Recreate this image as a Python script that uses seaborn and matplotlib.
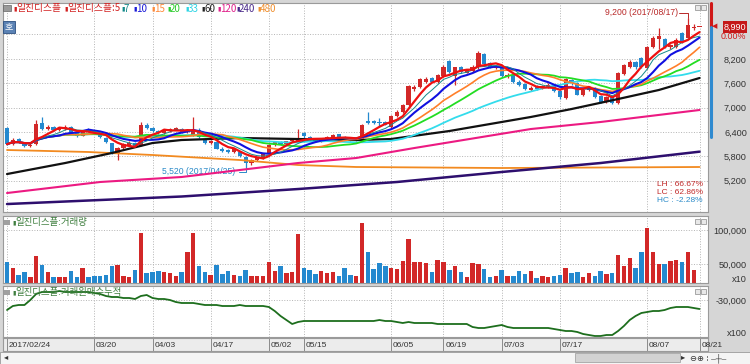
import numpy as np
import pandas as pd
import matplotlib
matplotlib.use('Agg')
import matplotlib.pyplot as plt
import matplotlib.patches as mpatches
import matplotlib.transforms as mtransforms
from matplotlib.lines import Line2D
import seaborn as sns

#========================= Data ===============================================
opens = [6490, 6100, 6230, 6140, 6050, 6100, 6620, 6470, 6520, 6440,
         6480, 6520, 6380, 6300, 6460, 6420, 6380, 6260, 6120, 5850,
         6000, 6090, 6140, 6080, 6560, 6500, 6420, 6370, 6430, 6460,
         6480, 6390, 6330, 6460, 6220, 6120, 6150, 5990, 5950, 5910,
         5920, 5790, 5640, 5700, 5760, 5880, 6080, 6160, 6100, 6170,
         6170, 6380, 6280, 6230, 6180, 6220, 6260, 6340, 6270, 6230,
         6190, 6210, 6680, 6680, 6650, 6640, 6530, 6800, 6880, 7060,
         7460, 7510, 7640, 7720, 7640, 7780, 8150, 7780, 8000, 7860,
         7900, 7990, 8330, 8090, 7980, 7980, 7770, 7790, 7640, 7580,
         7440, 7520, 7470, 7500, 7560, 7420, 7240, 7680, 7610, 7310,
         7440, 7480, 7280, 7130, 7270, 7120, 7820, 7990, 8120, 8220,
         7980, 8500, 8680, 8680, 8480, 8490, 8830, 8720, 8950, 8990]
highs = [6520, 6240, 6260, 6160, 6130, 6700, 6760, 6580, 6540, 6520,
         6560, 6540, 6400, 6440, 6490, 6450, 6400, 6280, 6140, 6040,
         6130, 6170, 6160, 6640, 6620, 6520, 6450, 6460, 6500, 6520,
         6500, 6480, 6780, 6500, 6240, 6200, 6170, 6020, 5970, 6000,
         5940, 5810, 5740, 5790, 5880, 6110, 6180, 6180, 6190, 6250,
         6480, 6400, 6300, 6250, 6250, 6300, 6360, 6350, 6290, 6250,
         6250, 6600, 6890, 6700, 6740, 6660, 6810, 6950, 7100, 7560,
         7560, 7740, 7760, 7760, 7830, 8040, 8180, 8010, 8020, 7950,
         8040, 8380, 8350, 8120, 8060, 8000, 7850, 7810, 7680, 7600,
         7520, 7560, 7560, 7600, 7580, 7440, 7720, 7700, 7630, 7470,
         7520, 7500, 7300, 7290, 7290, 7880, 8080, 8160, 8140, 8240,
         8520, 8760, 8960, 8700, 8570, 8700, 8850, 9200, 9060, 8990]
lows = [6080, 6080, 6130, 6040, 6020, 6090, 6460, 6440, 6420, 6420,
        6450, 6360, 6280, 6290, 6400, 6350, 6250, 6120, 5850, 5700,
        5980, 6070, 6030, 6060, 6470, 6400, 6350, 6350, 6410, 6440,
        6380, 6370, 6300, 6260, 6110, 6100, 5970, 5920, 5890, 5890,
        5780, 5520, 5600, 5680, 5740, 5870, 6060, 6080, 6090, 6150,
        6150, 6260, 6200, 6170, 6160, 6200, 6240, 6240, 6200, 6170,
        6170, 6200, 6590, 6600, 6520, 6560, 6510, 6780, 6860, 7040,
        7420, 7480, 7600, 7620, 7600, 7760, 7860, 7560, 7850, 7840,
        7880, 7960, 8050, 7980, 7940, 7760, 7740, 7600, 7540, 7430,
        7400, 7440, 7450, 7480, 7380, 7220, 7220, 7560, 7300, 7290,
        7420, 7240, 7120, 7110, 7080, 7100, 7800, 7970, 7960, 7970,
        7960, 8460, 8430, 8460, 8440, 8470, 8580, 8700, 8900, 8990]
closes = [6100, 6200, 6150, 6060, 6090, 6600, 6480, 6530, 6440, 6490,
          6520, 6380, 6300, 6420, 6420, 6370, 6270, 6150, 5880, 6010,
          6100, 6140, 6050, 6560, 6500, 6420, 6370, 6440, 6470, 6490,
          6400, 6430, 6420, 6280, 6130, 6170, 5990, 5940, 5910, 5980,
          5800, 5640, 5700, 5760, 5850, 6080, 6150, 6100, 6170, 6220,
          6240, 6290, 6220, 6190, 6230, 6280, 6330, 6260, 6220, 6190,
          6220, 6570, 6620, 6620, 6610, 6580, 6790, 6900, 7060, 7520,
          7500, 7700, 7700, 7640, 7800, 8000, 7880, 7990, 7870, 7920,
          8000, 8340, 8080, 8000, 8020, 7780, 7800, 7620, 7560, 7450,
          7480, 7460, 7520, 7560, 7400, 7250, 7700, 7600, 7320, 7440,
          7490, 7260, 7140, 7260, 7110, 7860, 8050, 8130, 8000, 7990,
          8480, 8700, 8750, 8480, 8540, 8660, 8610, 9030, 8990, 8990]
volume = [52400, 44200, 34500, 37900, 31600, 61200, 49000, 37900, 30600, 31600,
          31600, 40300, 31600, 44200, 31600, 33000, 33000, 34500, 47600, 48500,
          33000, 30600, 41300, 95100, 36400, 38800, 40300, 37900, 36400, 33000,
          37900, 67000, 96100, 47600, 37900, 34500, 48500, 35400, 39800, 34000,
          33000, 41300, 33000, 33000, 33000, 53400, 40300, 46600, 36900, 38800,
          93700, 44200, 41300, 35400, 39300, 36900, 37900, 33000, 43700, 34000,
          32100, 110600, 67000, 42700, 51000, 46600, 44200, 42700, 53900, 86400,
          53400, 52400, 51500, 38800, 56300, 52400, 41300, 47600, 37900, 30600,
          51500, 50000, 42700, 30600, 33000, 41300, 33000, 33000, 40300, 35400,
          39800, 29600, 33000, 31600, 33000, 34000, 43700, 36400, 38800, 30600,
          36900, 33000, 39300, 35000, 36400, 63600, 46600, 58700, 44200, 67000,
          103400, 67000, 50000, 50000, 54900, 56300, 52400, 67900, 41300, 0]
cum_buy = [-40000, -36000, -35000, -35000, -30000, -24000, -22000, -22000, -22000, -21000,
           -22000, -22000, -22000, -22000, -22000, -23000, -24000, -26000, -27000, -27000,
           -28000, -28000, -29000, -26000, -25000, -28000, -29000, -29000, -30000, -32000,
           -33000, -33000, -33000, -34000, -35000, -35000, -35000, -36000, -36000, -36000,
           -35000, -36000, -36000, -36000, -36000, -37000, -41000, -46000, -50000, -54000,
           -52000, -51000, -51000, -51000, -51000, -51000, -51000, -51000, -51000, -51000,
           -51000, -51000, -51000, -51000, -50000, -51000, -51000, -52000, -53000, -52000,
           -53000, -53000, -53000, -53000, -54000, -54000, -54000, -54000, -54000, -54000,
           -57000, -58000, -58000, -57000, -56000, -55000, -57000, -58000, -58000, -58000,
           -58000, -58000, -58000, -58000, -59000, -60000, -61000, -61000, -62000, -64000,
           -65000, -66000, -66000, -65000, -65000, -61000, -56000, -50000, -46000, -43000,
           -42000, -41000, -41000, -40000, -38000, -37000, -37000, -37000, -38000, -39000]

# long moving averages, read at a few days each
ma60_day = [0, 10, 18, 25, 30, 40, 50, 60, 66, 76, 90, 97, 105, 112, 119]
ma60_val = [5366, 5637, 5883, 6129, 6203, 6252, 6227, 6203, 6227, 6424, 6769, 6965, 7211, 7433, 7728]
ma120_day = [0, 16, 30, 50, 60, 70, 90, 102, 119]
ma120_val = [4899, 5170, 5293, 5637, 5760, 6006, 6473, 6646, 6941]
ma240_day = [0, 16, 30, 50, 67, 85, 102, 119]
ma240_val = [4628, 4727, 4813, 4997, 5170, 5416, 5637, 5916]
ma480_day = [0, 14, 25, 40, 50, 60, 85, 119]
ma480_val = [5957, 5908, 5834, 5711, 5588, 5539, 5514, 5539]

date_day = [0, 15, 25, 35, 45, 51, 66, 75, 85, 95, 110, 119]
date_lbl = ['2017/02/24', '03/20', '04/03', '04/17', '05/02', '05/15',
            '06/05', '06/19', '07/03', '07/17', '08/07', '08/21']
price_ticks = [5200, 5800, 6400, 7000, 7600, 8200, 8800]
price_lbls = ['5,200', '5,800', '6,400', '7,000', '7,600', '8,200', '']

legend_items = [('일진디스플', '#d22020'), ('일진디스플:5', '#d22020'), ('7', '#138a8a'),
                ('10', '#1a1ad8'), ('15', '#ff8a3a'), ('20', '#2ccc2c'), ('33', '#2cd4e4'),
                ('60', '#222222'), ('120', '#e0208a'), ('240', '#4a2a8a'), ('480', '#f09030')]
legend_x = [13, 64, 121, 133, 151, 167, 185, 201, 217, 236, 257]

#========================= Set up =============================================
sns.set_theme(style='white')
KR = ['Noto Sans CJK KR', 'DejaVu Sans']
plt.rcParams['font.family'] = ['Liberation Sans', 'DejaVu Sans']

RED, BLUE = '#d22828', '#2489cf'
W, H = 750, 364
fig = plt.figure(figsize=(7.5, 3.64), dpi=100)
fig.patch.set_facecolor('#d6d6d6')

def box(x0, y0, x1, y1):
    return [x0 / W, 1 - y1 / H, (x1 - x0) / W, (y1 - y0) / H]

def fx(x):
    return x / W

def fy(y):
    return 1 - y / H

ax = fig.add_axes(box(3, 3, 708, 212))
axv = fig.add_axes(box(3, 216, 708, 283), sharex=ax)
axc = fig.add_axes(box(3, 286, 708, 337), sharex=ax)
axd = fig.add_axes(box(3, 338, 708, 351), sharex=ax)

df = pd.DataFrame({'day': np.arange(len(closes)), 'open': opens, 'high': highs,
                   'low': lows, 'close': closes, 'vol': volume, 'cum': cum_buy})
df['up'] = df['close'] >= df['open']
df['col'] = np.where(df['up'], RED, BLUE)

for a in (ax, axv, axc, axd):
    a.set_facecolor('white')
    for s in a.spines.values():
        s.set_color('#9a9a9a')
        s.set_linewidth(0.8)
    a.set_xlim(-0.69, 120.45)
    a.set_xticks(date_day)
    a.tick_params(axis='x', length=0, labelbottom=False)
    a.grid(True, ls=':', color='#b4b4b4', lw=0.7)
    a.yaxis.tick_right()
    a.tick_params(axis='y', length=0, pad=28, labelsize=6.6, colors='#333333')
axd.set_facecolor('#ececec')
axd.grid(False)
axd.set_yticks([])

#========================= Price panel ========================================
ax.set_ylim(4432, 9573)
ax.set_yticks(price_ticks, price_lbls, ha='right')
ax.vlines(df['day'], df['low'], df['high'], colors=df['col'], lw=0.9, zorder=2)
body = np.maximum((df['close'] - df['open']).abs(), 14)
ax.bar(df['day'], body, bottom=np.minimum(df['open'], df['close']), width=0.72,
       color=df['col'], linewidth=0, zorder=3)

for w, c, lw in [(33, '#33dcec', 1.3), (20, '#22dd22', 1.3), (15, '#ff7f2a', 1.2),
                 (10, '#1010e0', 1.5), (7, '#138a8a', 0.7), (5, '#ee1010', 1.6)]:
    ma = df['close'].rolling(w, min_periods=1).mean()
    sns.lineplot(x=df['day'], y=ma, ax=ax, color=c, lw=lw, zorder=5, legend=False)
for d, v, c, lw in [(ma480_day, ma480_val, '#f28a20', 1.3), (ma240_day, ma240_val, '#2e0f6e', 1.8),
                    (ma120_day, ma120_val, '#ec1a82', 1.5), (ma60_day, ma60_val, '#111111', 1.6)]:
    sns.lineplot(x=d, y=v, ax=ax, color=c, lw=lw, zorder=4, legend=False)
ax.set_xlabel('')
ax.set_ylabel('')

ax.text(115.3, 9330, '9,200 (2017/08/17)', ha='right', va='center', fontsize=6.2,
        color='#b82828')
ax.plot([115.5, 117, 117], [9330, 9330, 9210], color='#b82828', lw=0.7)
ax.text(26.6, 5420, '5,520 (2017/04/25)', ha='left', va='center', fontsize=6.2,
        color='#2a8ac8')
ax.plot([39.8, 41, 41], [5420, 5420, 5510], color='#2a8ac8', lw=0.7)
for k, (t, c) in enumerate([('LH : 66.67%', '#c02828'), ('LC : 62.86%', '#c02828'),
                            ('HC : -2.28%', '#2a8ac8')]):
    fig.text(fx(657), fy(185 + 7.5 * k), t, fontsize=6, color=c, va='center')

#========================= Volume panel =======================================
axv.set_ylim(22300, 120400)
axv.bar(df['day'], df['vol'], width=0.76, color=df['col'], linewidth=0)
axv.set_yticks([50000, 100000], ['50,000', '100,000'], ha='right')
axv.set_ylabel('')
fig.text(fx(747), fy(279), 'x10', ha='right', va='center', fontsize=6.6, color='#333333')

#========================= Cumulative panel ===================================
axc.set_ylim(-67000, -16000)
sns.lineplot(x=df['day'], y=df['cum'], ax=axc, color='#1d6e1d', lw=1.3, legend=False)
axc.set_yticks([-30000], ['-30,000'], ha='right')
axc.set_xlabel('')
axc.set_ylabel('')
fig.text(fx(747), fy(333), 'x100', ha='right', va='center', fontsize=6.6, color='#333333')

#========================= Date band ==========================================
trans = mtransforms.blended_transform_factory(axd.transData, axd.transAxes)
for d, l in zip(date_day, date_lbl):
    axd.plot([d, d], [0, 1], transform=trans, color='#8a8a8a', lw=0.7)
    axd.text(d + 0.3, 0.45, l, transform=trans, ha='left', va='center', fontsize=6,
             color='#333333')

#========================= Headers, boxes, widgets ============================
for x, (lbl, c) in zip(legend_x, legend_items):
    fig.text(fx(x), fy(8.5), '▮', fontsize=4.5, color=c, va='center', family=KR)
    fig.text(fx(x + 3), fy(8.5), lbl, fontsize=7, color=c, va='center', family=KR)
fig.patches.append(mpatches.Rectangle((fx(3), fy(11)), 8 / W, 6 / H, transform=fig.transFigure,
                                      facecolor='#9a9a9a', edgecolor='#666666', lw=0.5))
fig.patches.append(mpatches.Rectangle((fx(3), fy(33)), 12 / W, 12 / H, transform=fig.transFigure,
                                      facecolor='#5b82b4', edgecolor='#2b4f80', lw=0.6))
fig.text(fx(9), fy(27), '호', fontsize=6.5, color='white', ha='center', va='center', family=KR)

for y, lbl in [(222, '일진디스플:거래량'), (292, '일진디스플:거래원매수누적')]:
    fig.patches.append(mpatches.Rectangle((fx(4), fy(y + 3)), 6 / W, 5 / H,
                                          transform=fig.transFigure, facecolor='#a0a0a0', lw=0))
    fig.text(fx(12), fy(y), '▮', fontsize=4.5, color='#3f7f3f', va='center', family=KR)
    fig.text(fx(15), fy(y), lbl, fontsize=6.8, color='#3f7f3f', va='center', family=KR)
for y in (6, 220, 290):
    for x in (695, 701):
        fig.patches.append(mpatches.Rectangle((fx(x), fy(y + 4)), 5 / W, 5 / H,
                                              transform=fig.transFigure, facecolor='#e8e8e8',
                                              edgecolor='#8a8a8a', lw=0.5))

# current price marker on the right
fig.add_artist(Line2D([fx(711), fx(711)], [fy(3), fy(27)], color='#d01818', lw=2.2))
fig.add_artist(Line2D([fx(711), fx(711)], [fy(27), fy(137)], color='#2f8ad0', lw=2.2))
fig.text(fx(712), fy(27), '◀', fontsize=5, color='#d01818', va='center', ha='left')
fig.text(fx(735), fy(27), '8,990', fontsize=6.6, color='white', ha='center', va='center',
         bbox=dict(facecolor='#c41818', edgecolor='none', pad=0.8))
fig.text(fx(746), fy(36.5), '0.00%', fontsize=6.4, color='#d01818', ha='right', va='center')

# scroll bar
fig.patches.append(mpatches.Rectangle((0, 0), 1, 12 / H, transform=fig.transFigure,
                                      facecolor='#f4f4f4', edgecolor='#9a9a9a', lw=0.6))
fig.patches.append(mpatches.Rectangle((fx(575), fy(362)), 105 / W, 9 / H, transform=fig.transFigure,
                                      facecolor='#d2d2d2', edgecolor='#9a9a9a', lw=0.5))
fig.text(fx(4), fy(358), '◂', fontsize=6, color='#333333', va='center')
fig.text(fx(681), fy(358), '▸', fontsize=6, color='#333333', va='center')
fig.text(fx(690), fy(358), '⊖⊕ ⁞ ‒┼‒', fontsize=6, color='#333333', va='center')

fig.savefig('out.png', dpi=100, facecolor=fig.get_facecolor())
